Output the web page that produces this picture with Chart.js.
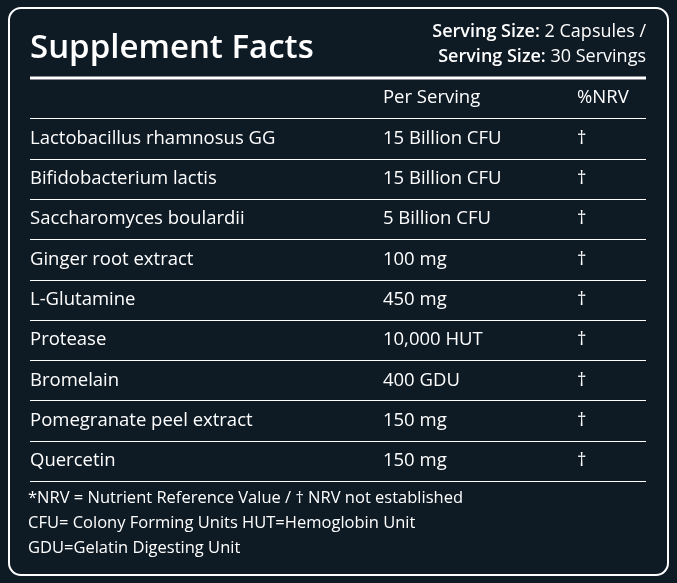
<!DOCTYPE html>
<html><head><meta charset="utf-8">
<script src="https://cdn.jsdelivr.net/npm/chart.js@4"></script>
<style>html,body{margin:0;background:#fff}#wrap{width:677px;height:583px}</style>
</head><body><div id="wrap"><canvas id="c"></canvas></div>
<script>
// table rows
const ingredients = ['Lactobacillus rhamnosus GG','Bifidobacterium lactis','Saccharomyces boulardii','Ginger root extract','L-Glutamine','Protease','Bromelain','Pomegranate peel extract','Quercetin'];
const perServing = ['15 Billion CFU','15 Billion CFU','5 Billion CFU','100 mg','450 mg','10,000 HUT','400 GDU','150 mg','150 mg'];
const nrv = ['†','†','†','†','†','†','†','†','†'];
const columnX = [0, 57.3, 88.8];
const notes = ['*NRV = Nutrient Reference Value / † NRV not established','CFU= Colony Forming Units HUT=Hemoglobin Unit','GDU=Gelatin Digesting Unit'];

const F = '"Open Sans", "Noto Sans", sans-serif';

const tablePlugin = {
  id: 'table',
  beforeDraw(chart) {
    const c = chart.ctx, W = chart.width, H = chart.height;
    c.save();
    c.fillStyle = '#0e1a24';
    c.fillRect(0, 0, W, H);
    c.strokeStyle = '#ffffff'; c.lineWidth = 2;
    c.beginPath(); c.roundRect(9, 8, W - 18, H - 16, 12); c.stroke();
    c.restore();
  },
  afterDraw(chart) {
    const c = chart.ctx, x = chart.scales.x, y = chart.scales.y;
    const L = x.getPixelForValue(0), R = x.getPixelForValue(100);
    c.save();
    c.fillStyle = '#fff';
    c.textBaseline = 'alphabetic';
    c.font = '600 33px ' + F;
    c.fillText('Supplement Facts', 30, 58);
    c.textAlign = 'right';
    const rt = (bold, rest, yy) => {
      c.font = '18px ' + F; c.fillText(rest, R, yy);
      const w = c.measureText(rest).width;
      c.font = '600 18px ' + F; c.fillText(bold, R - w, yy);
    };
    rt('Serving Size:', ' 2 Capsules /', 37);
    rt('Serving Size:', ' 30 Servings', 62);
    c.textAlign = 'left';
    // rules
    c.strokeStyle = '#fff';
    c.lineWidth = 3;
    c.beginPath(); c.moveTo(L, y.getPixelForValue(-0.5)); c.lineTo(R, y.getPixelForValue(-0.5)); c.stroke();
    c.lineWidth = 1;
    for (let i = 0; i <= ingredients.length; i++) {
      const yy = Math.round(y.getPixelForValue(i + 0.5)) + 0.5;
      c.beginPath(); c.moveTo(L, yy); c.lineTo(R, yy); c.stroke();
    }
    c.textBaseline = 'middle';
    c.font = '18.5px ' + F;
    c.fillText('Per Serving', x.getPixelForValue(columnX[1]), y.getPixelForValue(0));
    c.fillText('%NRV', x.getPixelForValue(columnX[2]), y.getPixelForValue(0));
    ingredients.forEach((n, i) => {
      const yy = y.getPixelForValue(i + 1);
      c.fillText(n, x.getPixelForValue(columnX[0]), yy);
      c.fillText(perServing[i], x.getPixelForValue(columnX[1]), yy);
      c.fillText(nrv[i], x.getPixelForValue(columnX[2]), yy);
    });
    c.font = '16.5px ' + F;
    notes.forEach((t, i) => c.fillText(t, 28, 498 + i * 25));
    c.restore();
  }
};

new Chart(document.getElementById('c'), {
  type: 'scatter',
  data: { datasets: [{ data: ingredients.map((n, i) => ({ x: 0, y: i + 1 })), pointRadius: 0 }] },
  options: {
    responsive: true, maintainAspectRatio: false, animation: false,
    layout: { padding: { left: 30, right: 31, top: 78, bottom: 102 } },
    plugins: { legend: { display: false }, tooltip: { enabled: false } },
    scales: {
      x: { type: 'linear', min: 0, max: 100, display: false },
      y: { type: 'linear', min: -0.5, max: 9.5, reverse: true, display: false }
    }
  },
  plugins: [tablePlugin]
});
</script></body></html>
